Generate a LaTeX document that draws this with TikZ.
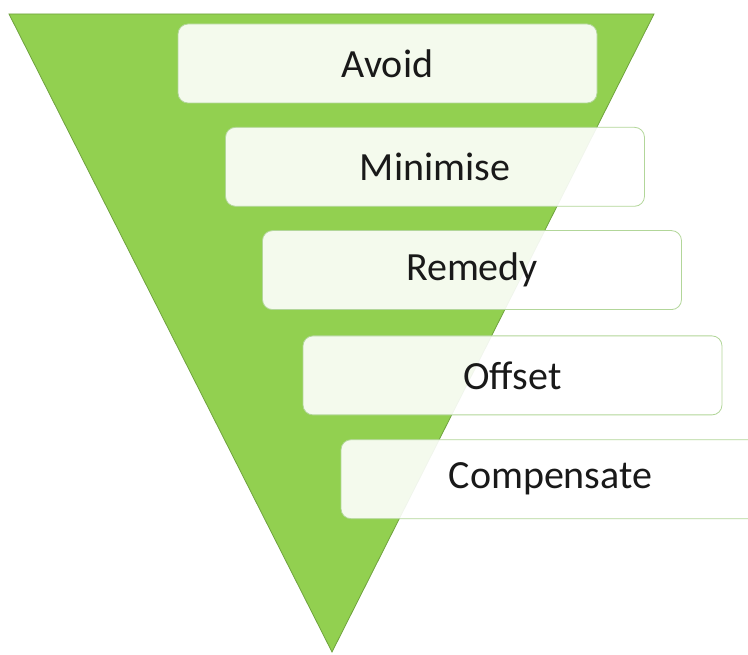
\documentclass[tikz,border=0pt]{standalone}
\usepackage{fontspec}
\setmainfont{Carlito}
\usetikzlibrary{positioning}
\definecolor{leafgreen}{HTML}{92D050}
\definecolor{leafedge}{HTML}{6FA23E}
\definecolor{tieredge}{HTML}{B2D699}

\begin{document}
\begin{tikzpicture}[%
    x=1pt,
    y=-1pt,
    node distance=24pt,
    tier/.style={%
      rectangle,
      rounded corners=10pt,
      minimum width=419pt,
      minimum height=79pt,
      inner sep=0pt,
      draw=tieredge,
      line width=0.8pt,
      fill=white,
      fill opacity=0.9,
      text opacity=1,
      text=black!90,
      font=\fontsize{40}{44}\selectfont
    }
  ]
    \useasboundingbox (0,0) rectangle (748,655);
    \coordinate (topleft)  at (9,14);
    \coordinate (topright) at (654,14);
    \coordinate (apex)     at (332,652);
    \filldraw[fill=leafgreen, draw=leafedge, line width=0.8pt]
      (topleft) -- (topright) -- (apex) -- cycle;

    \node[tier] (avoid)      at (387.5,63.5)                                        {Avoid};
    \node[tier] (minimise)   [below=23.5pt of avoid, xshift=47.5pt]               {Minimise};
    \node[tier] (remedy)     [below=23.5pt of minimise, xshift=37pt]              {Remedy};
    \node[tier] (offset)     [below=25.5pt of remedy, xshift=40.5pt]              {Offset};
    \node[tier] (compensate) [below=of offset, xshift=38pt]                        {Compensate};
\end{tikzpicture}
\end{document}
